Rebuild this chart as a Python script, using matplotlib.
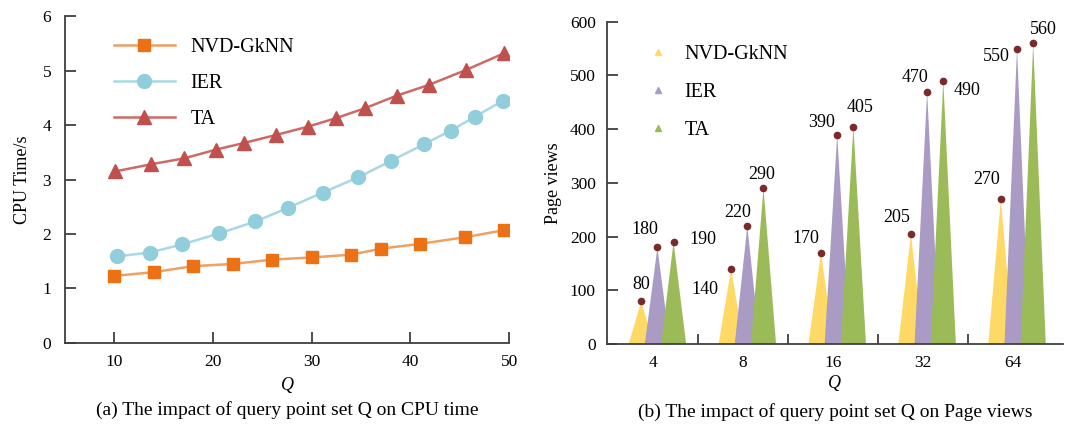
import numpy as np
import matplotlib
matplotlib.use("Agg")
import matplotlib.pyplot as plt

plt.rcParams['font.family'] = ['Liberation Serif', 'DejaVu Serif']
plt.rcParams['font.size'] = 12

# ---- (a) CPU time ----
nvd_q = [10, 14, 18, 22, 26, 30, 34, 37, 41, 45.5, 49.5]
nvd_t = [1.23, 1.30, 1.41, 1.45, 1.53, 1.57, 1.62, 1.73, 1.82, 1.94, 2.07]

ier_q = [10.3, 13.6, 16.9, 20.6, 24.3, 27.6, 31.1, 34.7, 38.0, 41.4, 44.1, 46.5, 49.4]
ier_t = [1.59, 1.66, 1.81, 2.01, 2.23, 2.48, 2.76, 3.04, 3.34, 3.65, 3.90, 4.15, 4.45]

ta_q = [10.1, 13.7, 17.1, 20.3, 23.1, 26.4, 29.6, 32.5, 35.4, 38.6, 41.9, 45.6, 49.5]
ta_t = [3.15, 3.28, 3.39, 3.55, 3.67, 3.82, 3.97, 4.13, 4.31, 4.54, 4.74, 5.01, 5.32]

# ---- (b) Page views ----
groups = ['4', '8', '16', '32', '64']
pv_nvd = [80, 140, 170, 205, 270]
pv_ier = [180, 220, 390, 470, 550]
pv_ta = [190, 290, 405, 490, 560]

spine_c = '#3f3f3f'
c_nvd, c_ier, c_ta = '#EC7014', '#92CDDC', '#C0504D'
b_nvd, b_ier, b_ta = '#FFD966', '#A99BC4', '#9BBB59'

fig = plt.figure(figsize=(10.65, 4.26), dpi=100)

# left panel
ax1 = fig.add_axes([0.061, 0.195, 0.417, 0.767])
ax1.plot(nvd_q, nvd_t, color='#F0A060', lw=1.8, marker='s', ms=9,
         mfc=c_nvd, mec=c_nvd, label='NVD-GkNN')
ax1.plot(ier_q, ier_t, color='#A8D8E4', lw=1.8, marker='o', ms=10,
         mfc=c_ier, mec=c_ier, label='IER')
ax1.plot(ta_q, ta_t, color='#CD6A66', lw=1.8, marker='^', ms=9.5,
         mfc=c_ta, mec=c_ta, label='TA')
ax1.set_xlim(5, 50)
ax1.set_ylim(0, 6)
ax1.set_xticks([10, 20, 30, 40, 50])
ax1.set_yticks(range(0, 7))
ax1.set_xlabel('Q', style='italic', fontsize=13, labelpad=5)
ax1.set_ylabel('CPU Time/s', fontsize=13, labelpad=8)
ax1.legend(loc='upper left', bbox_to_anchor=(0.07, 0.99), frameon=False,
           labelspacing=0.85, handlelength=3.0, handletextpad=0.8, fontsize=14.5)
ax1.text(0.5, -0.205, '(a) The impact of query point set Q on CPU time',
         transform=ax1.transAxes, ha='center', va='center', fontsize=14)

# right panel
ax2 = fig.add_axes([0.570, 0.192, 0.428, 0.757])
x = np.arange(len(groups))
w = 0.28
offs = [-0.13, 0.05, 0.23]
for vals, col, off in [(pv_nvd, b_nvd, offs[0]), (pv_ier, b_ier, offs[1]), (pv_ta, b_ta, offs[2])]:
    for xi, v in zip(x, vals):
        cx = xi + off
        ax2.fill([cx - w / 2, cx, cx + w / 2], [0, v, 0], color=col, lw=0)
    ax2.plot(x + off, vals, ls='none', marker='o', ms=4.5, color='#7A2A2A')

# label offsets in points (dx, dy)
lab_off = {
    0: [(0, 12), (-9, 13), (21, 2)],
    1: [(-19, -15), (-7, 10), (-1, 10)],
    2: [(-11, 10), (-11, 9), (5, 14)],
    3: [(-10, 12), (-9, 10), (17, -7)],
    4: [(-10, 14), (-15, -6), (7, 10)],
}
for gi in range(len(groups)):
    for si, vals in enumerate([pv_nvd, pv_ier, pv_ta]):
        dx, dy = lab_off[gi][si]
        ax2.annotate(str(vals[gi]), (x[gi] + offs[si], vals[gi]),
                     xytext=(dx, dy), textcoords='offset points',
                     ha='center', va='center', fontsize=13)

ax2.set_xlim(-0.51, 4.56)
ax2.set_ylim(0, 600)
ax2.set_xticks(x)
ax2.set_xticklabels(groups)
ax2.set_xticks(x[:-1] + 0.5, minor=True)
ax2.set_yticks(range(0, 601, 100))
ax2.set_xlabel('Q', style='italic', fontsize=13, labelpad=3)
ax2.set_ylabel('Page views', fontsize=13, labelpad=6)
for lab, col in [('NVD-GkNN', b_nvd), ('IER', b_ier), ('TA', b_ta)]:
    ax2.plot([], [], ls='none', marker='^', ms=5, color=col, label=lab)
ax2.legend(loc='upper left', bbox_to_anchor=(0.05, 0.985), frameon=False,
           labelspacing=0.95, handlelength=1.0, handletextpad=0.8, fontsize=14.5)
ax2.text(0.5, -0.21, '(b) The impact of query point set Q on Page views',
         transform=ax2.transAxes, ha='center', va='center', fontsize=14)

for ax in (ax1, ax2):
    for s in ('top', 'right'):
        ax.spines[s].set_visible(False)
    for s in ('left', 'bottom'):
        ax.spines[s].set_color(spine_c)
        ax.spines[s].set_linewidth(1.3)
    ax.tick_params(direction='in', length=8, width=1.3, color=spine_c,
                   labelsize=12.5, pad=8)
ax1.tick_params(axis='y', pad=10)
ax2.tick_params(axis='x', which='major', length=0, pad=8)
ax2.tick_params(axis='x', which='minor', direction='in', length=7, width=1.3, color=spine_c)

fig.savefig('out.png', dpi=100)
